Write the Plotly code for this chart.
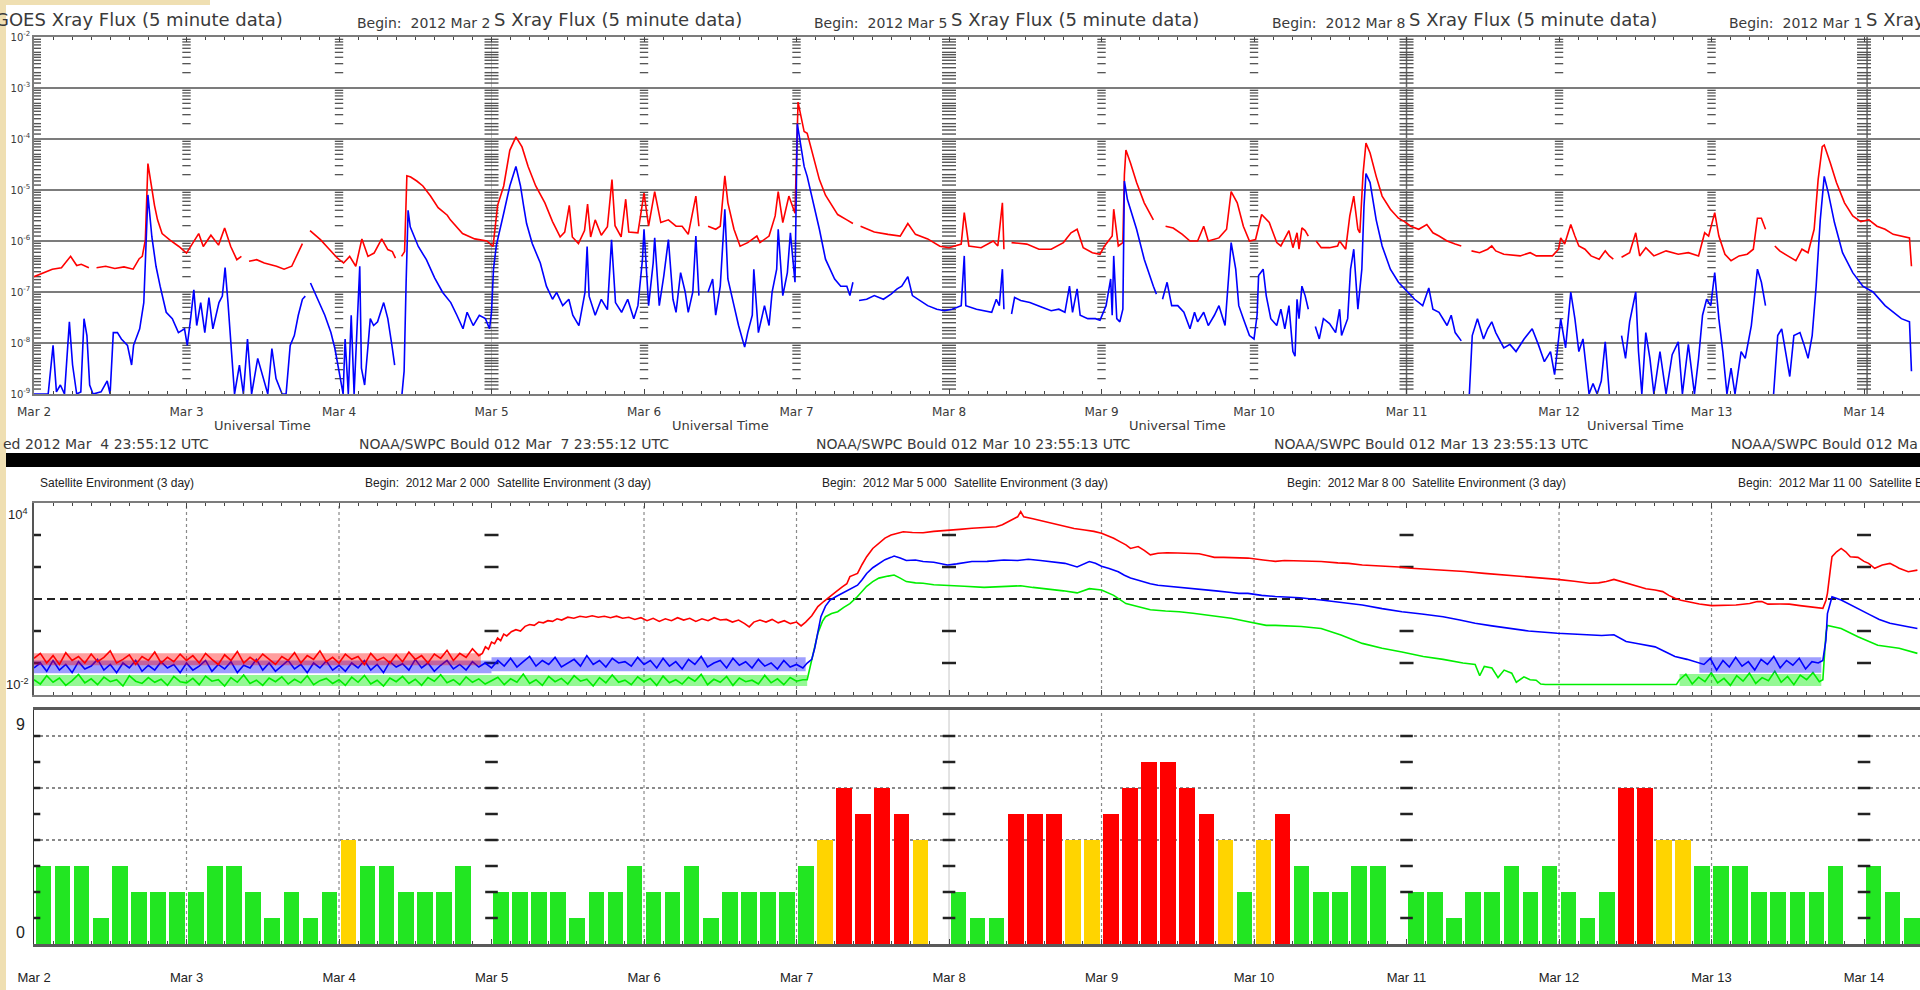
import plotly.graph_objects as go

# ---------------------------------------------------------------------------
# Time axis: decimal day of March 2012 (UT).  2.5 == Mar 2 12:00 UT
# ---------------------------------------------------------------------------
W, H = 1920, 990
T0, T1 = 2.0, 14.367
PLOT_LEFT = 34

DAYS = list(range(2, 15))
DAY_LABELS = ["Mar %d" % d for d in DAYS]
PANEL_EDGES = [5, 8, 11, 14]          # joins between the 3-day plots
DAY_INNER = [3, 4, 6, 7, 9, 10, 12, 13]
DAY_EDGE = [2, 5, 8, 11, 14]

# ---------------------------------------------------------------------------
# GOES X-ray flux, W/m^2   (None = data gap)
# ---------------------------------------------------------------------------
XRAY_LONG = [  # 1-8 Angstrom
    (2.00, 2.0e-7), (2.05, 2.3e-7), (2.12, 2.8e-7), (2.18, 3.0e-7), (2.24, 5.0e-7), (2.28, 3.3e-7),
    (2.31, 3.5e-7), (2.36, 3.0e-7), (2.38, None), (2.41, 3.0e-7), (2.47, 3.2e-7), (2.53, 2.9e-7),
    (2.59, 3.1e-7), (2.65, 2.8e-7), (2.69, 4.5e-7), (2.71, 5.0e-7), (2.73, 1.05e-6), (2.747, 3.3e-5),
    (2.77, 1.2e-5), (2.79, 5.0e-6), (2.81, 2.6e-6), (2.84, 1.4e-6), (2.89, 1.05e-6), (2.95, 7.8e-7),
    (3.00, 5.8e-7), (3.04, 8.9e-7), (3.08, 1.4e-6), (3.11, 7.8e-7), (3.16, 1.3e-6), (3.21, 8.3e-7),
    (3.25, 1.8e-6), (3.29, 7.8e-7), (3.33, 4.3e-7), (3.36, 5.0e-7), (3.38, None), (3.41, 4.0e-7),
    (3.46, 4.3e-7), (3.51, 3.7e-7), (3.59, 3.2e-7), (3.64, 2.8e-7), (3.69, 3.2e-7), (3.76, 8.9e-7),
    (3.78, None), (3.81, 1.6e-6), (3.88, 1.05e-6), (3.93, 7.2e-7), (3.99, 4.6e-7), (4.03, 3.7e-7),
    (4.07, 5.0e-7), (4.11, 3.2e-7), (4.15, 1.1e-6), (4.19, 5.0e-7), (4.23, 5.8e-7), (4.28, 1.1e-6),
    (4.32, 6.8e-7), (4.35, 6.2e-7), (4.37, 4.6e-7), (4.39, None), (4.41, 5.0e-7), (4.43, 6.2e-7),
    (4.445, 1.9e-5), (4.47, 1.8e-5), (4.51, 1.5e-5), (4.55, 1.2e-5), (4.60, 7.6e-6), (4.65, 4.5e-6),
    (4.71, 3.2e-6), (4.73, 2.6e-6), (4.81, 1.4e-6), (4.89, 1.1e-6), (4.97, 1.0e-6), (5.01, 7.8e-7),
    (5.04, 5.0e-6), (5.08, 1.2e-5), (5.12, 6.0e-5), (5.16, 1.1e-4), (5.20, 7.0e-5), (5.24, 2.9e-5),
    (5.29, 1.2e-5), (5.35, 5.6e-6), (5.40, 2.4e-6), (5.45, 1.2e-6), (5.48, 1.5e-6), (5.51, 5.0e-6),
    (5.53, 1.2e-6), (5.57, 8.9e-7), (5.61, 1.6e-6), (5.63, 5.3e-6), (5.65, 1.2e-6), (5.68, 2.6e-6),
    (5.72, 1.3e-6), (5.76, 1.9e-6), (5.79, 1.6e-5), (5.81, 2.0e-6), (5.85, 1.2e-6), (5.88, 6.6e-6),
    (5.90, 1.5e-6), (5.96, 1.45e-6), (6.00, 8.7e-6), (6.03, 1.95e-6), (6.07, 9.3e-6), (6.11, 2.3e-6),
    (6.16, 2.6e-6), (6.21, 1.95e-6), (6.25, 1.95e-6), (6.29, 1.35e-6), (6.34, 7.6e-6), (6.36, 1.95e-6),
    (6.39, None), (6.42, 1.95e-6), (6.47, 1.7e-6), (6.50, 1.95e-6), (6.53, 1.9e-5), (6.55, 5.6e-6),
    (6.59, 1.7e-6), (6.63, 7.9e-7), (6.68, 9.3e-7), (6.74, 1.25e-6), (6.76, 9.3e-7), (6.82, 1.25e-6),
    (6.86, 3.1e-6), (6.88, 9.3e-6), (6.91, 2.3e-6), (6.95, 7.6e-6), (6.99, 3.5e-6), (7.01, 5.3e-4),
    (7.03, 2.5e-4), (7.05, 1.4e-4), (7.07, 1.3e-4), (7.11, 4.6e-5), (7.15, 1.6e-5), (7.19, 7.9e-6),
    (7.22, 5.6e-6), (7.27, 3.3e-6), (7.33, 2.6e-6), (7.37, 2.2e-6), (7.40, None), (7.42, 1.95e-6),
    (7.51, 1.5e-6), (7.60, 1.35e-6), (7.68, 1.25e-6), (7.73, 2.2e-6), (7.78, 1.35e-6), (7.86, 1.1e-6),
    (7.94, 7.9e-7), (8.00, 7.4e-7), (8.08, 8.7e-7), (8.10, 3.6e-6), (8.13, 8.0e-7), (8.21, 7.4e-7),
    (8.29, 1.0e-6), (8.32, 8.0e-7), (8.35, 5.6e-6), (8.36, 6.9e-7), (8.38, None), (8.41, 9.3e-7),
    (8.51, 8.7e-7), (8.59, 6.9e-7), (8.67, 6.9e-7), (8.75, 9.3e-7), (8.80, 1.45e-6), (8.84, 1.7e-6),
    (8.88, 7.4e-7), (8.94, 5.9e-7), (8.99, 5.5e-7), (9.02, 8.0e-7), (9.07, 1.25e-6), (9.08, 4.2e-6),
    (9.11, 8.0e-7), (9.14, 9.3e-7), (9.15, 2.0e-5), (9.16, 6.1e-5), (9.19, 3.4e-5), (9.23, 1.4e-5),
    (9.28, 5.6e-6), (9.34, 2.6e-6), (9.38, None), (9.42, 1.95e-6), (9.47, 1.8e-6), (9.53, 1.35e-6),
    (9.58, 1.0e-6), (9.63, 1.0e-6), (9.67, 1.95e-6), (9.70, 1.0e-6), (9.77, 1.15e-6), (9.82, 1.7e-6),
    (9.85, 9.3e-6), (9.89, 5.6e-6), (9.93, 1.95e-6), (9.97, 1.0e-6), (10.01, 1.07e-6), (10.05, 3.3e-6),
    (10.10, 2.3e-6), (10.149, 9.3e-7), (10.176, 8.0e-7), (10.229, 1.6e-6), (10.255, 7.4e-7),
    (10.282, 1.45e-6), (10.295, 6.9e-7), (10.314, 1.8e-6), (10.335, 1.6e-6), (10.356, 1.25e-6),
    (10.38, None), (10.407, 1.0e-6), (10.441, 7.4e-7), (10.495, 7.4e-7), (10.548, 8.0e-7),
    (10.561, 1.0e-6), (10.601, 6.9e-7), (10.628, 3.1e-6), (10.654, 7.6e-6), (10.681, 1.7e-6),
    (10.694, 1.45e-6), (10.715, 2.1e-5), (10.734, 8.3e-5), (10.761, 5.3e-5), (10.801, 1.85e-5),
    (10.84, 7.6e-6), (10.894, 4.2e-6), (10.947, 2.8e-6), (10.987, 2.4e-6), (11.027, 1.95e-6),
    (11.08, 1.7e-6), (11.133, 2.1e-6), (11.173, 1.45e-6), (11.213, 1.25e-6), (11.266, 1.0e-6),
    (11.319, 8.7e-7), (11.359, 8.0e-7), (11.39, None), (11.426, 6.4e-7), (11.479, 5.9e-7),
    (11.532, 6.9e-7), (11.559, 8.0e-7), (11.585, 6.4e-7), (11.638, 5.5e-7), (11.745, 5.1e-7),
    (11.811, 5.9e-7), (11.851, 5.1e-7), (11.957, 5.1e-7), (11.997, 6.9e-7), (12.011, 1.15e-6),
    (12.037, 8.7e-7), (12.077, 2.1e-6), (12.104, 1.25e-6), (12.13, 8.0e-7), (12.17, 6.9e-7),
    (12.21, 5.1e-7), (12.263, 4.4e-7), (12.303, 6.4e-7), (12.33, 5.1e-7), (12.356, 4.4e-7),
    (12.38, None), (12.41, 4.8e-7), (12.463, 5.9e-7), (12.503, 1.45e-6), (12.529, 5.1e-7),
    (12.569, 7.4e-7), (12.622, 5.1e-7), (12.702, 6.4e-7), (12.782, 5.5e-7), (12.848, 5.9e-7),
    (12.915, 5.1e-7), (12.955, 1.45e-6), (12.981, 1.25e-6), (13.021, 3.6e-6), (13.048, 1.25e-6),
    (13.088, 5.5e-7), (13.128, 4.1e-7), (13.181, 5.1e-7), (13.234, 5.5e-7), (13.274, 6.9e-7),
    (13.301, 2.8e-6), (13.327, 2.8e-6), (13.354, 1.7e-6), (13.38, None), (13.415, 8.0e-7),
    (13.447, 6.4e-7), (13.5, 5.1e-7), (13.553, 4.1e-7), (13.593, 6.9e-7), (13.633, 5.9e-7),
    (13.673, 1.7e-6), (13.699, 1.6e-5), (13.726, 7.1e-5), (13.739, 7.6e-5), (13.779, 3.4e-5),
    (13.819, 1.4e-5), (13.872, 5.6e-6), (13.926, 3.1e-6), (13.979, 2.4e-6), (14.032, 2.6e-6),
    (14.085, 1.95e-6), (14.138, 1.7e-6), (14.191, 1.35e-6), (14.245, 1.25e-6), (14.298, 1.15e-6),
    (14.311, 3.2e-7),
]

XRAY_SHORT = [  # 0.5-4 Angstrom
    (2.0, 1e-9), (2.093, 1e-9), (2.125, 9e-9), (2.147, 1.1e-9), (2.173, 1.5e-9), (2.2, 1e-9),
    (2.232, 2.6e-8), (2.253, 3.7e-9), (2.28, 1e-9), (2.307, 1.1e-9), (2.328, 3e-8), (2.347, 1.4e-8),
    (2.365, 1.5e-9), (2.387, 1e-9), (2.44, 1.1e-9), (2.48, 1.8e-9), (2.499, 1e-9), (2.52, 1.6e-8),
    (2.547, 1.6e-8), (2.573, 1.2e-8), (2.613, 9e-9), (2.64, 3.7e-9), (2.653, 9e-9), (2.693, 1.9e-8),
    (2.72, 6.2e-8), (2.733, 5.8e-7), (2.747, 8e-6), (2.773, 1.2e-6), (2.8, 3.2e-7), (2.827, 1.3e-7),
    (2.867, 4e-8), (2.907, 3e-8), (2.947, 1.6e-8), (2.987, 1.9e-8), (3.005, 9e-9), (3.027, 3e-8),
    (3.048, 1.1e-7), (3.067, 2.2e-8), (3.093, 6.2e-8), (3.12, 1.6e-8), (3.147, 7.8e-8), (3.173, 1.9e-8),
    (3.213, 6.2e-8), (3.235, 8.3e-8), (3.253, 3e-7), (3.272, 6.2e-8), (3.293, 9e-9), (3.315, 1e-9),
    (3.347, 3.7e-9), (3.373, 1e-9), (3.4, 1.2e-8), (3.427, 1e-9), (3.467, 5e-9), (3.507, 2e-9),
    (3.533, 1e-9), (3.56, 7.8e-9), (3.587, 2e-9), (3.627, 1e-9), (3.653, 1e-9), (3.68, 9e-9),
    (3.707, 1.4e-8), (3.733, 3.5e-8), (3.76, 7.2e-8), (3.779, 8.3e-8), (3.79, None), (3.813, 1.5e-7),
    (3.853, 8.3e-8), (3.907, 3.5e-8), (3.947, 1.6e-8), (3.973, 7.8e-9), (4.0, 2.8e-9), (4.027, 1e-9),
    (4.04, 1.2e-8), (4.061, 1e-9), (4.08, 3.5e-8), (4.099, 1e-9), (4.12, 2.6e-8), (4.136, 3.2e-7),
    (4.147, 3.2e-9), (4.168, 1.5e-9), (4.187, 6.8e-9), (4.205, 3e-8), (4.227, 2.2e-8), (4.253, 2.6e-8),
    (4.293, 6.2e-8), (4.32, 3e-8), (4.347, 9e-9), (4.365, 3.7e-9), (4.39, None), (4.413, 1e-9),
    (4.427, 2.8e-9), (4.44, 1.5e-7), (4.453, 4e-6), (4.467, 1.9e-6), (4.52, 7.8e-7), (4.573, 4.3e-7),
    (4.627, 1.9e-7), (4.68, 9.8e-8), (4.733, 6.2e-8), (4.773, 3.5e-8), (4.813, 1.9e-8), (4.84, 4e-8),
    (4.88, 2.2e-8), (4.92, 3.5e-8), (4.96, 3e-8), (4.987, 1.9e-8), (5.0, 4e-8), (5.013, 2.8e-7),
    (5.032, 8.3e-7), (5.08, 3.5e-6), (5.12, 1.2e-5), (5.16, 2.9e-5), (5.19, 1.2e-5), (5.21, 5e-6),
    (5.23, 2.2e-6), (5.267, 8.9e-7), (5.32, 3.7e-7), (5.36, 1.3e-7), (5.4, 7.2e-8), (5.427, 9.8e-8),
    (5.467, 5.4e-8), (5.507, 7.2e-8), (5.533, 3.5e-8), (5.573, 2.2e-8), (5.613, 9.8e-8), (5.627, 7.8e-7),
    (5.64, 8.3e-8), (5.68, 3.5e-8), (5.72, 7.2e-8), (5.76, 4.5e-8), (5.787, 1.05e-6), (5.813, 6.2e-8),
    (5.853, 4e-8), (5.893, 7.2e-8), (5.933, 3e-8), (5.96, 5.4e-8), (5.99, 4.4e-7), (6.0, 1.7e-6),
    (6.03, 5.4e-8), (6.06, 3.7e-7), (6.07, 1.15e-6), (6.1, 5.4e-8), (6.13, 2.1e-7), (6.16, 1.07e-6),
    (6.19, 7.2e-8), (6.21, 4e-8), (6.24, 2.4e-7), (6.27, 1e-7), (6.29, 4e-8), (6.32, 1e-7),
    (6.34, 1.25e-6), (6.36, 8.5e-8), (6.39, None), (6.42, 1e-7), (6.45, 1.8e-7), (6.47, 3.5e-8),
    (6.5, 1.3e-7), (6.53, 4.2e-6), (6.55, 1.8e-7), (6.59, 5.4e-8), (6.62, 2.2e-8), (6.66, 8.3e-9),
    (6.68, 1.6e-8), (6.71, 3.5e-8), (6.72, 2.8e-7), (6.75, 1.6e-8), (6.79, 5.4e-8), (6.82, 2.2e-8),
    (6.84, 1e-7), (6.87, 2.8e-7), (6.88, 1.7e-6), (6.91, 8.5e-8), (6.94, 2.4e-7), (6.96, 1.45e-6),
    (6.99, 1.55e-7), (7.005, 2e-4), (7.03, 6e-5), (7.05, 2.9e-5), (7.07, 1.85e-5), (7.11, 5.6e-6),
    (7.15, 1.7e-6), (7.19, 4.4e-7), (7.22, 2.8e-7), (7.25, 1.8e-7), (7.29, 1.3e-7), (7.33, 1.3e-7),
    (7.35, 8.5e-8), (7.37, 1.55e-7), (7.39, None), (7.41, 6.8e-8), (7.46, 7.2e-8), (7.51, 8.5e-8),
    (7.57, 7.2e-8), (7.62, 9.1e-8), (7.66, 1.15e-7), (7.69, 1.3e-7), (7.73, 2.0e-7), (7.76, 8.5e-8),
    (7.81, 6.8e-8), (7.86, 5.4e-8), (7.92, 4.6e-8), (7.97, 4.3e-8), (8.02, 4.6e-8), (8.08, 5.4e-8),
    (8.10, 5.1e-7), (8.11, 5.4e-8), (8.18, 4.6e-8), (8.23, 4.3e-8), (8.28, 4e-8), (8.31, 7.2e-8),
    (8.33, 5.4e-8), (8.35, 2.8e-7), (8.36, 4.6e-8), (8.38, None), (8.41, 3.7e-8), (8.43, 7.8e-8),
    (8.47, 6.8e-8), (8.53, 6.2e-8), (8.61, 5e-8), (8.67, 4.3e-8), (8.72, 4.6e-8), (8.76, 4.0e-8),
    (8.79, 1.3e-7), (8.81, 4e-8), (8.84, 1.15e-7), (8.86, 3.5e-8), (8.91, 3e-8), (8.96, 3e-8),
    (8.99, 2.8e-8), (9.03, 5.4e-8), (9.06, 1.8e-7), (9.07, 3.5e-8), (9.08, 5.1e-7), (9.10, 3e-8),
    (9.12, 2.6e-8), (9.14, 4.6e-8), (9.15, 1.5e-5), (9.17, 6.5e-6), (9.23, 1.7e-6), (9.28, 4.4e-7),
    (9.34, 1.3e-7), (9.36, 9.1e-8), (9.38, None), (9.40, 7.2e-8), (9.43, 1.55e-7), (9.46, 5.4e-8),
    (9.50, 5.4e-8), (9.54, 4e-8), (9.58, 1.9e-8), (9.61, 4e-8), (9.63, 2.6e-8), (9.67, 4e-8),
    (9.70, 2.2e-8), (9.74, 3.5e-8), (9.77, 5.4e-8), (9.81, 2.2e-8), (9.83, 1.3e-7), (9.85, 9.3e-7),
    (9.88, 2.8e-7), (9.90, 5.4e-8), (9.93, 3e-8), (9.97, 1.4e-8), (10.0, 1.2e-8), (10.02, 3.5e-8),
    (10.03, 2.1e-7), (10.06, 2.8e-7), (10.08, 8.5e-8), (10.11, 3e-8), (10.149, 2.2e-8), (10.176, 4.6e-8),
    (10.202, 1.9e-8), (10.229, 5.4e-8), (10.255, 6.8e-9), (10.269, 5.5e-9), (10.282, 7.2e-8),
    (10.295, 3e-8), (10.314, 1.3e-7), (10.335, 8.5e-8), (10.356, 4.6e-8), (10.38, None),
    (10.402, 2.1e-8), (10.428, 1.2e-8), (10.455, 3e-8), (10.495, 2.4e-8), (10.535, 1.6e-8),
    (10.561, 4.6e-8), (10.574, 1.4e-8), (10.614, 3e-8), (10.633, 2.8e-7), (10.654, 6.9e-7),
    (10.681, 4.6e-8), (10.707, 2.8e-7), (10.721, 4.8e-6), (10.734, 2.1e-5), (10.761, 1.4e-5),
    (10.801, 2.6e-6), (10.84, 8.0e-7), (10.894, 2.8e-7), (10.947, 1.55e-7), (11.0, 1.05e-7),
    (11.053, 7.2e-8), (11.106, 5.4e-8), (11.146, 1.2e-7), (11.173, 4.6e-8), (11.213, 4e-8),
    (11.266, 2.2e-8), (11.293, 3.5e-8), (11.319, 1.6e-8), (11.359, 1.1e-8), (11.39, None),
    (11.412, 1e-9), (11.431, 1.4e-8), (11.465, 3e-8), (11.505, 1.2e-8), (11.532, 1.9e-8),
    (11.559, 2.6e-8), (11.585, 1.6e-8), (11.638, 8e-9), (11.678, 9.4e-9), (11.718, 6.8e-9),
    (11.771, 1.2e-8), (11.824, 1.9e-8), (11.864, 9.4e-9), (11.904, 4.3e-9), (11.944, 6.8e-9),
    (11.971, 2.4e-9), (11.997, 1.2e-8), (12.011, 3e-8), (12.043, 8e-9), (12.077, 1e-7), (12.104, 3e-8),
    (12.13, 6.8e-9), (12.157, 1.2e-8), (12.197, 1e-9), (12.223, 1.6e-9), (12.25, 1e-9), (12.277, 1.8e-9),
    (12.303, 1.05e-8), (12.33, 1e-9), (12.37, None), (12.41, 1.4e-8), (12.436, 5e-9), (12.463, 2.6e-8),
    (12.503, 1e-7), (12.521, 6.8e-9), (12.543, 1e-9), (12.569, 1.6e-8), (12.596, 5e-9), (12.622, 1e-9),
    (12.662, 6.8e-9), (12.702, 1e-9), (12.742, 5.9e-9), (12.782, 1.05e-8), (12.809, 1e-9),
    (12.848, 9.4e-9), (12.888, 1e-9), (12.915, 5e-9), (12.941, 3.5e-8), (12.968, 7.2e-8),
    (12.995, 5.4e-8), (13.021, 2.4e-7), (13.048, 3e-8), (13.074, 6.8e-9), (13.101, 1e-9),
    (13.128, 3.2e-9), (13.154, 1e-9), (13.194, 6.8e-9), (13.221, 5e-9), (13.261, 2.2e-8),
    (13.301, 2.8e-7), (13.327, 1.55e-7), (13.354, 5.4e-8), (13.38, None), (13.407, 1e-9),
    (13.434, 1.4e-8), (13.46, 1.9e-8), (13.487, 6.8e-9), (13.513, 2.2e-9), (13.54, 1.4e-8),
    (13.58, 1.6e-8), (13.606, 9.4e-9), (13.633, 5e-9), (13.66, 1.4e-8), (13.686, 1.3e-7),
    (13.713, 2.6e-6), (13.739, 1.85e-5), (13.766, 8.7e-6), (13.806, 2.3e-6), (13.859, 5.9e-7),
    (13.926, 2.4e-7), (13.992, 1.3e-7), (14.059, 1e-7), (14.138, 5.4e-8), (14.191, 4e-8),
    (14.245, 3e-8), (14.298, 2.6e-8), (14.311, 2.8e-9),
]

# ---------------------------------------------------------------------------
# GOES integral proton flux, pfu.  Quiet stretches are hourly readings.
# ---------------------------------------------------------------------------
P10_QUIET = [  # >=10 MeV, hourly from Mar 2 00 UT
    0.14, 0.2, 0.1, 0.17, 0.09, 0.21, 0.12, 0.16, 0.1, 0.19, 0.11, 0.15, 0.24, 0.1, 0.13, 0.18, 0.09, 0.16, 0.12, 0.22, 0.1, 0.15, 0.11, 0.19,
    0.12, 0.17, 0.1, 0.2, 0.13, 0.09, 0.18, 0.12, 0.23, 0.1, 0.15, 0.11, 0.19, 0.13, 0.09, 0.16, 0.12, 0.21, 0.1, 0.17, 0.13, 0.24, 0.11, 0.15,
    0.1, 0.19, 0.13, 0.16, 0.09, 0.2, 0.12, 0.15, 0.1, 0.18, 0.11, 0.22, 0.13, 0.17, 0.1, 0.19, 0.14, 0.25, 0.12, 0.2, 0.15, 0.28, 0.17,
]
P10_EVENT = [
    (4.94, 0.2), (4.96, 0.32), (4.98, 0.27), (5.0, 0.45), (5.02, 0.4), (5.04, 0.6), (5.06, 0.5), (5.08, 0.8),
    (5.1, 0.7), (5.13, 0.95), (5.16, 1.1), (5.19, 1.0), (5.22, 1.4), (5.25, 1.6), (5.28, 1.5), (5.31, 1.9),
    (5.34, 1.8), (5.37, 2.1), (5.4, 2.0), (5.43, 2.4), (5.46, 2.2), (5.5, 2.7), (5.54, 2.5), (5.58, 2.9),
    (5.62, 2.7), (5.66, 3.0), (5.7, 2.7), (5.74, 2.9), (5.78, 2.6), (5.82, 2.9), (5.86, 2.5), (5.9, 2.7),
    (5.94, 2.3), (5.98, 2.6), (6.02, 2.1), (6.06, 2.5), (6.1, 2.0), (6.14, 2.4), (6.18, 2.1), (6.22, 2.6),
    (6.26, 2.2), (6.3, 2.5), (6.34, 2.0), (6.38, 2.4), (6.42, 2.1), (6.46, 2.6), (6.5, 2.2), (6.54, 2.3),
    (6.58, 1.9), (6.62, 2.2), (6.66, 1.7), (6.69, 1.35), (6.72, 1.9), (6.76, 2.2), (6.8, 1.9), (6.84, 2.3),
    (6.88, 1.8), (6.92, 2.1), (6.96, 1.7), (7.0, 1.9), (7.03, 1.45), (7.06, 1.9), (7.1, 3.0), (7.14, 5.8),
    (7.18, 8.5), (7.22, 11.7), (7.26, 17), (7.3, 24), (7.33, 30), (7.35, 50), (7.38, 58), (7.4, 63),
    (7.43, 120), (7.46, 210), (7.5, 380), (7.54, 550), (7.58, 800), (7.62, 1000), (7.66, 1150), (7.7, 1260),
    (7.76, 1200), (7.83, 1180), (7.9, 1300), (7.99, 1440), (8.07, 1500), (8.15, 1620), (8.23, 1700),
    (8.31, 1820), (8.35, 2100), (8.39, 2600), (8.43, 3300), (8.45, 3700), (8.47, 5400), (8.49, 3700),
    (8.55, 3200), (8.63, 2600), (8.7, 2200), (8.76, 1820), (8.82, 1600), (8.89, 1440), (8.95, 1300),
    (9.0, 1130), (9.04, 950), (9.08, 790), (9.12, 620), (9.16, 490), (9.19, 380), (9.24, 435), (9.28, 330),
    (9.32, 240), (9.37, 270), (9.43, 280), (9.5, 275), (9.57, 265), (9.64, 260), (9.69, 230), (9.74, 200),
    (9.8, 200), (9.88, 195), (9.96, 190), (10.06, 165), (10.14, 150), (10.2, 160), (10.3, 155), (10.44, 148),
    (10.55, 135), (10.62, 130), (10.71, 115), (10.8, 110), (10.95, 100), (11.03, 91), (11.15, 85),
    (11.24, 80), (11.38, 72), (11.51, 63), (11.65, 56), (11.77, 50), (11.88, 45), (11.99, 41), (12.1, 36),
    (12.2, 31), (12.26, 32), (12.31, 35), (12.36, 41), (12.4, 36), (12.44, 31), (12.5, 25), (12.57, 21),
    (12.63, 19), (12.68, 17), (12.72, 13), (12.76, 10.5), (12.8, 9.2), (12.84, 8.3), (12.92, 7.0),
    (13.0, 6.2), (13.08, 6.4), (13.16, 6.5), (13.25, 7.2), (13.3, 8.3), (13.33, 8.3), (13.37, 6.9),
    (13.45, 7.0), (13.51, 6.9), (13.58, 6.2), (13.64, 5.8), (13.7, 5.4), (13.73, 5.1), (13.75, 9),
    (13.76, 15), (13.78, 90), (13.79, 210), (13.82, 300), (13.85, 380), (13.88, 300), (13.91, 210),
    (13.96, 200), (14.0, 150), (14.03, 130), (14.07, 91), (14.12, 115), (14.17, 130), (14.2, 110),
    (14.23, 91), (14.29, 71), (14.35, 80),
]

P50_QUIET = [  # >=50 MeV, hourly from Mar 2 00 UT
    0.07, 0.1, 0.055, 0.12, 0.06, 0.09, 0.05, 0.11, 0.065, 0.08, 0.13, 0.06, 0.09, 0.05, 0.1, 0.07, 0.12, 0.055, 0.085, 0.06, 0.11, 0.07, 0.09, 0.05,
    0.1, 0.06, 0.08, 0.12, 0.055, 0.09, 0.065, 0.11, 0.05, 0.085, 0.07, 0.13, 0.06, 0.1, 0.055, 0.08, 0.12, 0.065, 0.09, 0.05, 0.1, 0.07, 0.115, 0.06,
    0.085, 0.055, 0.1, 0.07, 0.12, 0.06, 0.09, 0.05, 0.11, 0.075, 0.095, 0.06, 0.13, 0.07, 0.1, 0.055, 0.085, 0.12, 0.065, 0.09, 0.06, 0.11, 0.075, 0.1,
    0.07, 0.12, 0.08, 0.14, 0.075, 0.11, 0.16, 0.08, 0.12, 0.09, 0.15, 0.075, 0.1, 0.13, 0.08, 0.17, 0.09, 0.12, 0.075, 0.14, 0.1, 0.11, 0.08, 0.15,
    0.09, 0.12, 0.07, 0.14, 0.08, 0.11, 0.065, 0.13, 0.09, 0.16, 0.075, 0.1, 0.12, 0.07, 0.14, 0.085, 0.11, 0.07, 0.13, 0.08, 0.1, 0.065, 0.12, 0.075,
    0.09, 0.07,
]
P50_EVENT = [
    (7.07, 0.1), (7.1, 0.13), (7.12, 0.3), (7.14, 0.9), (7.16, 2.8), (7.19, 6), (7.22, 9.3), (7.26, 12),
    (7.3, 15), (7.35, 20), (7.4, 27), (7.43, 40), (7.46, 63), (7.5, 95), (7.54, 130), (7.58, 170), (7.62, 200),
    (7.64, 220), (7.68, 190), (7.72, 160), (7.78, 165), (7.83, 148), (7.9, 140), (7.99, 115), (8.05, 125),
    (8.15, 148), (8.25, 150), (8.36, 166), (8.45, 160), (8.52, 174), (8.6, 160), (8.68, 148), (8.76, 130),
    (8.84, 100), (8.88, 120), (8.92, 148), (8.96, 130), (9.0, 105), (9.05, 90), (9.11, 71), (9.15, 55),
    (9.19, 45), (9.23, 40), (9.27, 35), (9.32, 30), (9.37, 27), (9.45, 25), (9.55, 23), (9.64, 21),
    (9.75, 18), (9.85, 16), (9.9, 15), (9.96, 15), (10.05, 13), (10.14, 12), (10.3, 11), (10.44, 9.3),
    (10.57, 7.8), (10.71, 6.5), (10.84, 5.0), (10.97, 4.0), (11.1, 3.4), (11.24, 2.8), (11.35, 2.2),
    (11.45, 1.75), (11.56, 1.45), (11.67, 1.2), (11.8, 1.0), (11.99, 0.85), (12.1, 0.8), (12.2, 0.76),
    (12.28, 0.72), (12.36, 0.76), (12.44, 0.47), (12.52, 0.4), (12.63, 0.32), (12.7, 0.22), (12.76, 0.16),
    (12.84, 0.13), (12.92, 0.1),
]
P50_QUIET_2 = [  # hourly from Mar 12 22:48 UT
    0.09, 0.14, 0.06, 0.12, 0.075, 0.15, 0.08, 0.11, 0.06, 0.13, 0.09, 0.16, 0.07, 0.12, 0.085, 0.14, 0.065, 0.11, 0.1,
]
P50_LATE = [
    (13.73, 0.12), (13.75, 0.52), (13.76, 3.5), (13.79, 11.7), (13.85, 9.3), (13.93, 5.8), (14.04, 3.2),
    (14.1, 2.3), (14.17, 1.74), (14.28, 1.38), (14.35, 1.2),
]

P100_QUIET = [  # >=100 MeV, hourly from Mar 2 00 UT
    0.03, 0.022, 0.04, 0.025, 0.034, 0.02, 0.028, 0.044, 0.024, 0.032, 0.021, 0.036, 0.026, 0.03, 0.019, 0.04, 0.027, 0.023, 0.035, 0.025, 0.031, 0.02, 0.038, 0.026,
    0.024, 0.033, 0.021, 0.039, 0.027, 0.03, 0.019, 0.035, 0.025, 0.042, 0.023, 0.029, 0.02, 0.034, 0.026, 0.037, 0.022, 0.031, 0.024, 0.04, 0.021, 0.028, 0.033, 0.023,
    0.03, 0.02, 0.036, 0.025, 0.041, 0.022, 0.029, 0.019, 0.034, 0.026, 0.038, 0.023, 0.031, 0.02, 0.035, 0.027, 0.043, 0.024, 0.03, 0.021, 0.037, 0.025, 0.032, 0.022,
    0.028, 0.036, 0.021, 0.032, 0.025, 0.045, 0.023, 0.03, 0.02, 0.038, 0.026, 0.033, 0.022, 0.04, 0.027, 0.031, 0.019, 0.035, 0.024, 0.042, 0.025, 0.029, 0.021, 0.037,
    0.026, 0.033, 0.02, 0.039, 0.024, 0.03, 0.022, 0.036, 0.027, 0.044, 0.021, 0.031, 0.025, 0.038, 0.02, 0.034, 0.026, 0.029, 0.022, 0.041, 0.024, 0.032, 0.021, 0.035,
    0.027, 0.03,
]
P100_EVENT = [
    (7.07, 0.03), (7.09, 0.078), (7.12, 0.3), (7.14, 0.85), (7.17, 2.0), (7.19, 2.8), (7.23, 3.5), (7.27, 4.0),
    (7.31, 5.5), (7.35, 7.2), (7.4, 12), (7.46, 25), (7.5, 35), (7.54, 45), (7.6, 52), (7.64, 56), (7.68, 45),
    (7.72, 35), (7.78, 32), (7.83, 31), (7.9, 28), (7.99, 26), (8.1, 25), (8.23, 23), (8.35, 25), (8.47, 26),
    (8.55, 23), (8.63, 21), (8.75, 18), (8.84, 15.5), (8.92, 21), (9.0, 19), (9.08, 13), (9.16, 7.2),
    (9.24, 5.8), (9.32, 4.6), (9.42, 4.2), (9.51, 4.0), (9.6, 3.6), (9.69, 3.2), (9.78, 2.8), (9.85, 2.5),
    (9.93, 2.1), (10.01, 1.74), (10.08, 1.5), (10.14, 1.5), (10.31, 1.38), (10.44, 1.2), (10.57, 0.75),
    (10.71, 0.41), (10.84, 0.29), (10.97, 0.22), (11.11, 0.16), (11.24, 0.13), (11.37, 0.1), (11.45, 0.09),
    (11.48, 0.04), (11.51, 0.078), (11.56, 0.07), (11.6, 0.035), (11.64, 0.06), (11.69, 0.048),
    (11.72, 0.025), (11.77, 0.037), (11.81, 0.03), (11.85, 0.029), (11.88, 0.022), (11.91, 0.0214),
    (12.77, 0.0214),
]
P100_QUIET_2 = [  # hourly from Mar 12 18:58 UT
    0.03, 0.045, 0.022, 0.036, 0.026, 0.05, 0.024, 0.033, 0.02, 0.04, 0.027, 0.048, 0.023, 0.035, 0.028, 0.055, 0.025, 0.038, 0.021, 0.042, 0.03, 0.05, 0.026,
]
P100_LATE = [
    (13.73, 0.03), (13.75, 0.85), (13.76, 1.5), (13.85, 1.2), (13.96, 0.66), (14.09, 0.36), (14.23, 0.29), (14.35, 0.2),
]

# spread of the 5-minute noise in the quiet stretches: (start, end, low, high), pfu
P10_SPREAD = [(2.0, 4.93, 0.085, 0.2)]
P50_SPREAD = [(2.0, 5.0, 0.048, 0.12), (5.0, 7.06, 0.055, 0.15), (12.92, 13.72, 0.05, 0.15)]
P100_SPREAD = [(2.0, 7.07, 0.019, 0.042), (12.79, 13.72, 0.019, 0.045)]

# ---------------------------------------------------------------------------
# Estimated planetary K-index, eight 3-hour values per day (None = not yet issued)
# ---------------------------------------------------------------------------
KP_START = 2
KP = [
    3, 3, 3, 1, 3, 2, 2, 2,          # Mar 2
    2, 3, 3, 2, 1, 2, 1, 2,          # Mar 3
    4, 3, 3, 2, 2, 2, 3, None,       # Mar 4
    2, 2, 2, 2, 1, 2, 2, 3,          # Mar 5
    2, 2, 3, 1, 2, 2, 2, 2,          # Mar 6
    3, 4, 6, 5, 6, 5, 4, None,       # Mar 7
    2, 1, 1, 5, 5, 5, 4, 4,          # Mar 8
    5, 6, 7, 7, 6, 5, 4, 2,          # Mar 9
    4, 5, 3, 2, 2, 3, 3, None,       # Mar 10
    2, 2, 1, 2, 2, 3, 2, 3,          # Mar 11
    2, 1, 2, 6, 6, 4, 4, 3,          # Mar 12
    3, 3, 2, 2, 2, 2, 3, None,       # Mar 13
    3, 2, 1, 1,                      # Mar 14
]

# ---------------------------------------------------------------------------
# Styling
# ---------------------------------------------------------------------------
HERSHEY = "DejaVu Sans, Liberation Sans, sans-serif"
NARROW = "Liberation Sans, Arial, sans-serif"
TXT = "#3a3a3a"
FRAME = "#7c7c7c"
RED, BLUE, GREEN = "#ff0000", "#0000ff", "#00ee00"
KP_GREEN, KP_YELLOW, KP_RED = "#22e622", "#ffd400", "#ff0000"
FILL = {RED: "rgba(255,0,0,0.38)", BLUE: "rgba(0,0,255,0.38)", GREEN: "rgba(0,238,0,0.42)"}


def px_x(px):
    return px / W


def px_y(px):
    return 1 - px / H


def split(pairs):
    return [p[0] for p in pairs], [p[1] for p in pairs]


def hourly(start, vals):
    return [start + i / 24 for i in range(len(vals))]


fig = go.Figure()

# --- X-ray panel: minor-tick columns standing on each day ---------------------------
MINOR = [2, 3, 4, 5, 6, 7, 8, 9]
MINOR_DENSE = [1.25, 1.5, 1.75, 2, 2.5, 3, 3.5, 4, 4.5, 5, 6, 7, 8, 9]
for days, mults, size, lw in ((DAY_INNER, MINOR, 6, 1.3), (DAY_EDGE, MINOR_DENSE, 10, 1.4)):
    tx, ty = [], []
    for d in days:
        for k in range(-9, -2):
            for m in mults:
                tx.append(d)
                ty.append(m * 10.0 ** k)
    fig.add_trace(go.Scatter(x=tx, y=ty, mode="markers", xaxis="x", yaxis="y", hoverinfo="skip",
                             marker=dict(symbol="line-ew", size=size, color="#555",
                                         line=dict(width=lw, color="#555"))))

lt, lv = split(XRAY_LONG)
st, sv = split(XRAY_SHORT)
fig.add_trace(go.Scatter(x=lt, y=lv, mode="lines", line=dict(color=RED, width=1.6),
                         xaxis="x", yaxis="y", name="1-8 A"))
fig.add_trace(go.Scatter(x=st, y=sv, mode="lines", line=dict(color=BLUE, width=1.6),
                         xaxis="x", yaxis="y", name="0.5-4 A"))

# --- Proton panel --------------------------------------------------------------------
fig.add_trace(go.Scatter(x=[T0, T1], y=[10, 10], mode="lines", xaxis="x2", yaxis="y2", hoverinfo="skip",
                         line=dict(color="#222", width=2.2, dash="8px,5px")))
ex, ey = [], []
for d in DAY_EDGE:
    for v in (1e3, 1e2, 1, 0.1):
        ex.append(d)
        ey.append(v)
fig.add_trace(go.Scatter(x=ex, y=ey, mode="markers", xaxis="x2", yaxis="y2", hoverinfo="skip",
                         marker=dict(symbol="line-ew", size=10, color="#222", line=dict(width=2.5, color="#222"))))

t10 = hourly(2.0, P10_QUIET) + split(P10_EVENT)[0]
v10 = P10_QUIET + split(P10_EVENT)[1]
t50 = (hourly(2.0, P50_QUIET) + split(P50_EVENT)[0] + hourly(12.95, P50_QUIET_2) + split(P50_LATE)[0])
v50 = P50_QUIET + split(P50_EVENT)[1] + P50_QUIET_2 + split(P50_LATE)[1]
t100 = (hourly(2.0, P100_QUIET) + split(P100_EVENT)[0] + hourly(12.79, P100_QUIET_2) + split(P100_LATE)[0])
v100 = P100_QUIET + split(P100_EVENT)[1] + P100_QUIET_2 + split(P100_LATE)[1]

for color, spreads, ts, vs, name in ((GREEN, P100_SPREAD, t100, v100, ">=100 MeV"),
                                      (BLUE, P50_SPREAD, t50, v50, ">=50 MeV"),
                                      (RED, P10_SPREAD, t10, v10, ">=10 MeV")):
    for a, b, lo, hi in spreads:
        fig.add_trace(go.Scatter(x=[a, b], y=[lo, lo], mode="lines", line=dict(width=0),
                                 xaxis="x2", yaxis="y2", hoverinfo="skip"))
        fig.add_trace(go.Scatter(x=[a, b], y=[hi, hi], mode="lines", line=dict(width=0),
                                 fill="tonexty", fillcolor=FILL[color],
                                 xaxis="x2", yaxis="y2", hoverinfo="skip"))
    fig.add_trace(go.Scatter(x=ts, y=vs, mode="lines", line=dict(color=color, width=1.6),
                             xaxis="x2", yaxis="y2", name=name))

# --- Kp panel ------------------------------------------------------------------------
kx, ky, kc = [], [], []
for i, k in enumerate(KP):
    if k is None:
        continue
    kx.append(KP_START + (i + 0.5) / 8)
    ky.append(k)
    kc.append(KP_GREEN if k < 4 else (KP_YELLOW if k == 4 else KP_RED))
fig.add_trace(go.Bar(x=kx, y=ky, width=0.125 * 0.82, marker=dict(color=kc, line=dict(width=0)),
                     xaxis="x3", yaxis="y3", name="Kp"))

kdx, kdy = [], []
for d in DAY_EDGE:
    for v in range(1, 9):
        kdx.append(d)
        kdy.append(v)
fig.add_trace(go.Scatter(x=kdx, y=kdy, mode="markers", xaxis="x3", yaxis="y3", hoverinfo="skip",
                         marker=dict(symbol="line-ew", size=9, color="#222", line=dict(width=2.5, color="#222"))))

# ---------------------------------------------------------------------------
# Axes
# ---------------------------------------------------------------------------
DOM_X = [px_x(PLOT_LEFT), 1]
minor_x = dict(tickmode="linear", tick0=2, dtick=0.125, ticks="inside", ticklen=3,
               tickcolor="#444", showgrid=False)
common_x = dict(domain=DOM_X, range=[T0, T1], tickmode="array", tickvals=DAYS, ticks="inside",
                ticklen=5, tickcolor="#444", showline=True, linecolor=FRAME, linewidth=2,
                mirror="ticks", showgrid=False, zeroline=False, minor=minor_x, automargin=False)

xray_exp = list(range(-9, -1))
fig.update_layout(
    xaxis=dict(common_x, anchor="y", ticktext=DAY_LABELS, ticklabelstandoff=6,
               tickfont=dict(family=HERSHEY, size=12, color=TXT)),
    yaxis=dict(domain=[px_y(394), px_y(37)], type="log", range=[-9, -2], anchor="x",
               tickmode="array", tickvals=[10.0 ** e for e in xray_exp],
               ticktext=["10<sup>%d</sup>" % e for e in xray_exp], ticks="",
               tickfont=dict(family=HERSHEY, size=10, color=TXT), automargin=False,
               showgrid=True, gridcolor=FRAME, gridwidth=2, showline=True,
               linecolor=FRAME, linewidth=1.5, zeroline=False),
    xaxis2=dict(common_x, anchor="y2", showticklabels=False),
    yaxis2=dict(domain=[px_y(695), px_y(503)], type="log", range=[-2, 4], anchor="x2",
                showticklabels=False, ticks="", showgrid=False, showline=True, automargin=False,
                linecolor="#555", linewidth=1.5, zeroline=False),
    xaxis3=dict(common_x, anchor="y3", ticktext=DAY_LABELS, ticklabelstandoff=19,
                linecolor="#5a5a5a", linewidth=3, mirror=True,
                tickfont=dict(family=NARROW, size=13, color="#222")),
    yaxis3=dict(domain=[px_y(944), px_y(710)], range=[0, 9], anchor="x3",
                tickmode="array", tickvals=[4, 6, 8], showticklabels=False, ticks="",
                showgrid=True, griddash="dot", gridcolor="#8a8a8a", gridwidth=2, automargin=False,
                showline=True, linecolor="#333", linewidth=1.2, zeroline=False),
)

# ---------------------------------------------------------------------------
# Frames, separators and background pieces
# ---------------------------------------------------------------------------
shapes = []
for d in DAY_INNER:
    for xr, yr in (("x2", "y2 domain"), ("x3", "y3 domain")):
        shapes.append(dict(type="line", xref=xr, yref=yr, x0=d, x1=d, y0=0, y1=1, layer="below",
                           line=dict(color="#8a8a8a", width=1.2, dash="dot")))
for xr, yr in (("x2", "y2 domain"), ("x3", "y3 domain")):
    shapes.append(dict(type="line", xref=xr, yref=yr, x0=8, x1=8, y0=0, y1=1, layer="below",
                       line=dict(color="#c8c8c8", width=1)))
shapes.append(dict(type="line", xref="x", yref="y domain", x0=5, x1=5, y0=0, y1=1, layer="below",
                   line=dict(color="#c4c4c4", width=1)))
for d in (11, 14.02):
    shapes.append(dict(type="line", xref="x", yref="y domain", x0=d, x1=d, y0=0, y1=1, layer="below",
                       line=dict(color="#666", width=1.5)))
# black divider between the X-ray and particle sections
shapes.append(dict(type="rect", xref="paper", yref="paper", x0=0, x1=1, y0=px_y(467), y1=px_y(453),
                   fillcolor="#000", line=dict(width=0)))
# parchment edge of the slide
shapes.append(dict(type="rect", xref="paper", yref="paper", x0=0, x1=px_x(6), y0=0, y1=1,
                   fillcolor="#efdfb2", line=dict(width=0)))
shapes.append(dict(type="rect", xref="paper", yref="paper", x0=0, x1=px_x(210), y0=px_y(5), y1=1,
                   fillcolor="#efdfb2", line=dict(width=0)))
fig.update_layout(shapes=shapes)

# ---------------------------------------------------------------------------
# Text
# ---------------------------------------------------------------------------
NB = "\u00a0"


def note(text, x, ypx, xref="paper", xanchor="left", size=12, family=HERSHEY, color=TXT):
    return dict(text=text.replace("  ", NB + NB), x=x, y=px_y(ypx), xref=xref, yref="paper",
                xanchor=xanchor, yanchor="middle", showarrow=False,
                font=dict(family=family, size=size, color=color))


ann = []
ann.append(note("GOES Xray Flux (5 minute data)", px_x(-7), 19, size=18))
TOP_BEGIN = ["Begin:  2012 Mar 2", "Begin:  2012 Mar 5", "Begin:  2012 Mar 8", "Begin:  2012 Mar 1"]
FOOT_NEXT = ["012 Mar  7 23:55:12 UTC", "012 Mar 10 23:55:13 UTC", "012 Mar 13 23:55:13 UTC", "012 Ma"]
SAT_BEGIN = ["Begin:  2012 Mar 2 000", "Begin:  2012 Mar 5 000", "Begin:  2012 Mar 8 00", "Begin:  2012 Mar 11 00"]
for edge, beg, foot, sbeg in zip(PANEL_EDGES, TOP_BEGIN, FOOT_NEXT, SAT_BEGIN):
    ann.append(note(beg, edge, 23, xref="x", xanchor="right", size=14))
    ann.append(note("S Xray Flux (5 minute data)", edge, 19, xref="x", size=18))
    ann.append(note("NOAA/SWPC Bould", edge, 444, xref="x", xanchor="right", size=14))
    ann.append(note(foot, edge, 444, xref="x", size=14))
    ann.append(note(sbeg, edge, 483, xref="x", xanchor="right", size=12, family=NARROW, color="#222"))
    ann.append(note("Satellite Environment (3 day)", edge + 0.02, 483, xref="x", size=12,
                    family=NARROW, color="#222"))
ann.append(note("ed 2012 Mar  4 23:55:12 UTC", px_x(1), 444, size=14))
ann.append(note("Satellite Environment (3 day)", px_x(38), 483, size=12, family=NARROW, color="#222"))
for c in (3.5, 6.5, 9.5, 12.5):
    ann.append(note("Universal Time", c, 425, xref="x", xanchor="center", size=13))
ann.append(note("10<sup>4</sup>", px_x(18), 514, xanchor="center", size=13, family=NARROW, color="#222"))
ann.append(note("10<sup>-2</sup>", px_x(17), 684, xanchor="center", size=13, family=NARROW, color="#222"))
ann.append(note("9", px_x(20), 724, xanchor="center", size=16, family=NARROW, color="#222"))
ann.append(note("0", px_x(20), 932, xanchor="center", size=16, family=NARROW, color="#222"))

fig.update_layout(
    annotations=ann,
    width=W, height=H, autosize=False,
    margin=dict(l=0, r=0, t=0, b=0, autoexpand=False),
    paper_bgcolor="white", plot_bgcolor="white",
    showlegend=False, bargap=0,
)

fig.write_html("out.html")
